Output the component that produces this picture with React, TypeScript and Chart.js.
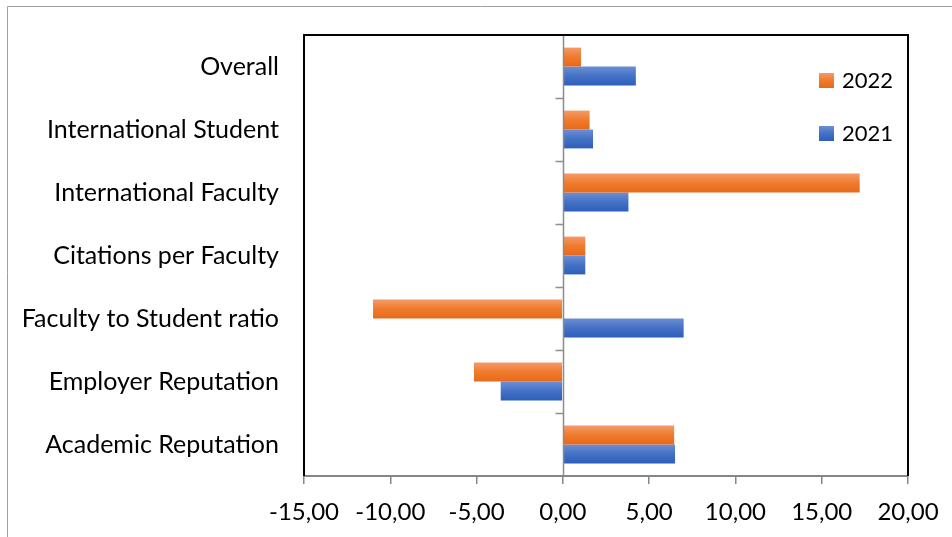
import React, { useEffect, useRef } from "react";
import { Chart, registerables } from "chart.js";

Chart.register(...registerables);

const categories = [
  "Overall",
  "International Student",
  "International Faculty",
  "Citations per Faculty",
  "Faculty to Student ratio",
  "Employer Reputation",
  "Academic Reputation",
];
const seriesLabels = ["2022", "2021"];
const values2022 = [1.05, 1.55, 17.2, 1.3, -11.0, -5.15, 6.45];
const values2021 = [4.23, 1.75, 3.8, 1.3, 7.0, -3.6, 6.5];
const xMin = -15;
const xMax = 20;
const xStep = 5;

const FONT = "Lato, 'Open Sans', sans-serif";
const Y_FONT_SIZE = 25;
const X_FONT_SIZE = 24;
const LEGEND_FONT_SIZE = 22;

const solidColors = ["#ED7D31", "#4472C4"];
const gradientStops: [number, string][][] = [
  [
    [0, "#F49A68"],
    [0.5, "#F07B2C"],
    [1, "#E8681B"],
  ],
  [
    [0, "#6C8ED6"],
    [0.5, "#4472C4"],
    [1, "#2E5EBD"],
  ],
];

const fmt = (v: number) => v.toFixed(2).replace(".", ",");

const gradientPlugin = {
  id: "gradBars",
  beforeDatasetsDraw(chart: any) {
    const ctx = chart.ctx;
    chart.data.datasets.forEach((_ds: any, di: number) => {
      const meta = chart.getDatasetMeta(di);
      const stops = gradientStops[di];
      meta.data.forEach((el: any) => {
        const { y, height } = el.getProps(["y", "height"], true);
        const top = y - height / 2;
        const g = ctx.createLinearGradient(0, top, 0, top + height);
        stops.forEach(([o, c]) => g.addColorStop(o, c));
        el.options = Object.assign({}, el.options, { backgroundColor: g });
      });
    });
  },
};

const framePlugin = {
  id: "frame",
  afterDatasetsDraw(chart: any) {
    const ctx = chart.ctx;
    const { left, right, top, bottom } = chart.chartArea;
    const xs = chart.scales.x;
    const ys = chart.scales.y;
    ctx.save();
    // zero line
    const x0 = Math.round(xs.getPixelForValue(0)) + 0.5;
    ctx.strokeStyle = "#8C8C8C";
    ctx.lineWidth = 1.5;
    ctx.beginPath();
    ctx.moveTo(x0, top);
    ctx.lineTo(x0, bottom);
    ctx.stroke();
    // category boundary ticks
    const n = categories.length;
    for (let i = 1; i < n; i++) {
      const yb = Math.round((ys.getPixelForValue(i - 1) + ys.getPixelForValue(i)) / 2) + 0.5;
      ctx.beginPath();
      ctx.moveTo(x0 - 8, yb);
      ctx.lineTo(x0, yb);
      ctx.stroke();
    }
    // plot area border (left, top, right)
    ctx.strokeStyle = "#000000";
    ctx.lineWidth = 2;
    ctx.beginPath();
    ctx.moveTo(left, bottom);
    ctx.lineTo(left, top);
    ctx.lineTo(right, top);
    ctx.lineTo(right, bottom);
    ctx.stroke();
    ctx.restore();
  },
  afterDraw(chart: any) {
    const ctx = chart.ctx;
    const { right, top } = chart.chartArea;
    ctx.save();
    // outer border
    ctx.strokeStyle = "#A0A0A0";
    ctx.lineWidth = 1;
    ctx.beginPath();
    ctx.moveTo(7.5, chart.height + 5);
    ctx.lineTo(7.5, 6.5);
    ctx.lineTo(chart.width + 5, 6.5);
    ctx.stroke();
    // legend
    ctx.font = `${LEGEND_FONT_SIZE}px ${FONT}`;
    ctx.textBaseline = "middle";
    ctx.textAlign = "left";
    chart.data.datasets.forEach((ds: any, di: number) => {
      const bx = right - 89;
      const by = top + 38 + di * 53;
      const g = ctx.createLinearGradient(0, by, 0, by + 15);
      gradientStops[di].forEach(([o, c]) => g.addColorStop(o, c));
      ctx.fillStyle = g;
      ctx.fillRect(bx, by, 15, 15);
      ctx.fillStyle = "#000";
      ctx.fillText(ds.label, bx + 23, by + 8);
    });
    ctx.restore();
  },
};

export default function App() {
  const ref = useRef<HTMLCanvasElement | null>(null);
  useEffect(() => {
    if (!ref.current) return;
    const chart = new Chart(ref.current, {
      type: "bar",
      data: {
        labels: categories,
        datasets: [
          {
            label: seriesLabels[0],
            data: values2022,
            backgroundColor: solidColors[0],
            borderWidth: 0,
            categoryPercentage: 0.6,
            barPercentage: 1.0,
          },
          {
            label: seriesLabels[1],
            data: values2021,
            backgroundColor: solidColors[1],
            borderWidth: 0,
            categoryPercentage: 0.6,
            barPercentage: 1.0,
          },
        ],
      },
      options: {
        indexAxis: "y",
        animation: false,
        responsive: false,
        layout: { padding: { left: 0, top: 35, right: 44, bottom: 0 } },
        plugins: {
          legend: { display: false },
          tooltip: { enabled: false },
        },
        scales: {
          x: {
            type: "linear",
            min: xMin,
            max: xMax,
            ticks: {
              stepSize: xStep,
              callback: (v: any) => fmt(Number(v)),
              font: { family: FONT, size: X_FONT_SIZE },
              color: "#000",
              padding: 14,
              maxRotation: 0,
            },
            grid: {
              drawOnChartArea: false,
              drawTicks: true,
              tickLength: 8,
              color: "#868686",
              lineWidth: 1.5,
            },
            border: { display: true, color: "#868686", width: 2 },
            afterFit: (s: any) => {
              s.height = 61;
              s.paddingLeft = 0;
              s.paddingRight = 0;
            },
          },
          y: {
            type: "category",
            ticks: {
              font: { family: FONT, size: Y_FONT_SIZE },
              color: "#000",
              padding: 25,
            },
            grid: { display: false, drawTicks: false },
            border: { display: false },
            afterFit: (s: any) => {
              s.width = 304;
              s.paddingTop = 0;
              s.paddingBottom = 0;
            },
          },
        },
      },
      plugins: [gradientPlugin, framePlugin],
    });
    return () => chart.destroy();
  }, []);
  return (
    <div style={{ position: "fixed", left: 0, top: 0, width: 952, height: 537, background: "#fff" }}>
      <canvas ref={ref} width={952} height={537} style={{ display: "block", width: 952, height: 537 }} />
    </div>
  );
}
